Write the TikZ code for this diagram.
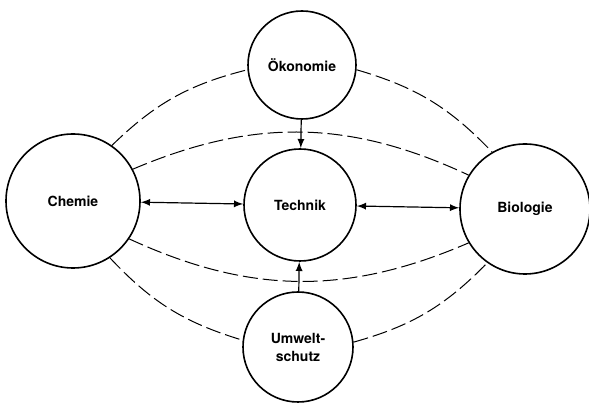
\documentclass[tikz,border=0pt]{standalone}
\usepackage{fontspec}
\setmainfont{TeX Gyre Heros}
\usetikzlibrary{arrows}

\begin{document}
\begin{tikzpicture}[
x=0.5pt,y=-0.5pt,
topic/.style={
	draw,
	circle,
	line width=0.8pt,
	inner sep=0pt,
	align=center,
	font=\fontsize{7}{9}\selectfont\bfseries
},
link/.style={
	dash pattern=on 7.5pt off 2.5pt,
	line width=0.5pt
},
flow/.style={
	line width=0.6pt
}
]
\useasboundingbox (0,0) rectangle (589,405);

\node[topic,minimum size=54pt] 
(oeko) at (302,65) {Ökonomie};
\node[topic,minimum size=67pt] 
(chem) at (73,201) {Chemie};
\node[topic,minimum size=56pt] 
(tech) at (300,205) {Technik};
\node[topic,minimum size=65pt] 
(bio) at (525,209) {Biologie};
\node[topic,minimum size=55pt] 
(umw) at (298,347) {Umwelt-\\schutz};

\draw[flow,latex-latex] (chem) -- (tech);
\draw[flow,latex-latex] (tech) -- (bio);
\draw[flow,-latex] (oeko) -- (tech);
\draw[flow,-latex] (umw) -- (tech);

\draw[link] (chem.55) to[bend left=15] (oeko.185);
\draw[link] (oeko.-5) to[bend left=15] (bio.120);
\draw[link] (chem.28) to[bend left=24] (bio.149);
\draw[link] (chem.-34) to[bend right=24] (bio.211);
\draw[link] (chem.-57) to[bend right=15] (umw.173);
\draw[link] (umw.5) to[bend right=15] (bio.235);

\end{tikzpicture}
\end{document}
